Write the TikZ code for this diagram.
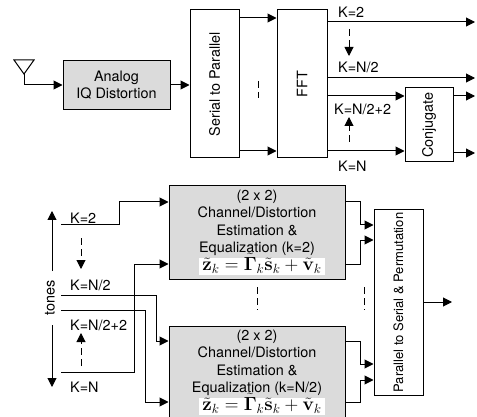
\documentclass[tikz,border=0pt]{standalone}
\usepackage{amsmath,amssymb}
\usepackage{fix-cm}
\usepackage[no-math]{fontspec}
\setmainfont{TeX Gyre Heros}
\usetikzlibrary{arrows.meta, calc}
\tikzset{
  box/.style={draw=black, line width=1pt, inner sep=0pt, align=center},
  graybox/.style={box, fill=black!14},
  link/.style={line width=1pt, -{Triangle[length=9pt,width=9pt]}},
  dashlink/.style={line width=1pt, dash pattern=on 7pt off 4pt, -{Triangle[length=9pt,width=9pt]}},
  dots/.style={line width=1pt, dash pattern=on 7pt off 4pt},
  lbl/.style={inner sep=0pt, anchor=west},
}
\newcommand{\mainsize}{\fontsize{14.4}{17.5}\selectfont}
\newcommand{\eqn}{{\setlength{\fboxsep}{0pt}\hspace*{10pt}\colorbox{white}{\fontsize{19}{19}\selectfont\hspace{3pt}\raisebox{0pt}[12.5pt][4.5pt]{$\tilde{\mathbf z}_k=\tilde{\mathbf\Gamma}_k\tilde{\mathbf s}_k+\tilde{\mathbf v}_k$}\hspace{3pt}}}}

\begin{document}
\begin{tikzpicture}[x=1pt, y=-1pt, font=\mainsize]
  \useasboundingbox (0,0) rectangle (477,417);
  \clip (0,0) rectangle (477,417);
  % top chain
  \node[graybox, minimum width=107, minimum height=49] (analog) at (116.5,85) {Analog\\IQ Distortion};
  \node[box, minimum width=49, minimum height=148] (s2p) at (214.5,84) {\rotatebox{90}{Serial to Parallel}};
  \node[box, minimum width=50, minimum height=148] (fft) at (302,84) {\rotatebox{90}{FFT}};
  \node[box, minimum width=48, minimum height=74] (conj) at (429,125) {\rotatebox{90}{Conjugate}};
  \coordinate (antbase) at (24,74);
  \coordinate (outA) at (475,22);
  \coordinate (outB) at (475,78);
  \coordinate (outC) at (475,96);
  \coordinate (outD) at (475,153);
  \draw[line width=1pt, line join=miter] (14,60) -- (34,60) -- (antbase) -- cycle;
  \draw[link] (antbase) |- (analog.west);
  \draw[link] (analog.east) -- (analog.east -| s2p.west);
  \draw[link] ([yshift=66pt]s2p.east) -- ([yshift=66pt]fft.west);
  \draw[link] ([yshift=-67pt]s2p.east) -- ([yshift=-67pt]fft.west);
  \draw[dots] (258,81) -- (258,98);
  \draw[link] (fft.east |- outA) -- (outA);
  \draw[link] (fft.east |- outB) -- (outB);
  \draw[link] (fft.east |- outC) -- (conj.west |- outC);
  \draw[link] ([yshift=-67pt]fft.east) -- (conj.west |- 0,151);
  \draw[link] (conj.east |- outC) -- (outC);
  \draw[link] (conj.east |- outD) -- (outD);
  \draw[dashlink] (349,29) -- (349,56);
  \draw[dashlink] (349,142) -- (349,117);
  \node[lbl] (topA) at (338,12) {K=2};
  \node[lbl] (topB) at (338,67) {K=N/2};
  \node[lbl] (topC) at (334,109) {K=N/2+2};
  \node[lbl] (topD) at (338,166) {K=N};
  % equalizer blocks
  \node[graybox, minimum width=176, minimum height=93] (eqA) at (257,232.5) {(2 x 2)\\Channel/Distortion\\Estimation \&\\Equalization (k=2)\\\eqn};
  \node[graybox, minimum width=176, minimum height=93] (eqB) at (257,372.5) {(2 x 2)\\Channel/Distortion\\Estimation \&\\Equalization (k=N/2)\\\eqn};
  \node[box, minimum width=49, minimum height=185] (p2s) at (398.5,302.5) {\rotatebox{90}{\fontsize{13}{15}\selectfont Parallel to Serial \& Permutation}};
  \coordinate (outE) at (452,302);
  \draw[link] (p2s.east |- outE) -- (outE);
  \draw[dots] (257,287) -- (257,310);
  \draw[dots] (364,287) -- (364,310);
  % tone lines
  \coordinate (toneA) at (61,225);
  \coordinate (toneB) at (61,295);
  \coordinate (toneC) at (61,310);
  \coordinate (toneD) at (61,372);
  \draw[link] (toneA) -- (119,225) |- (eqA.west |- 0,202);
  \draw[link] (toneB) -- (156,295) |- (eqB.west |- 0,341);
  \draw[link] (toneC) -- (145,310) |- (eqB.west |- 0,402);
  \draw[link] (toneD) -- (134,372) |- (eqA.west |- 0,264);
  \node[lbl] (botA) at (70,218) {K=2};
  \node[lbl] (botB) at (70,285) {K=N/2};
  \node[lbl] (botC) at (70,325) {K=N/2+2};
  \node[lbl] (botD) at (70,387) {K=N};
  \draw[dashlink] (81,238) -- (81,269);
  \draw[dashlink] (81,366) -- (81,333);
  \node[rotate=90, inner sep=0pt] (tones) at (50,298) {tones};
  \draw[link] (52,271) -- (52,211);
  \draw[link] (52,325) -- (52,387);
  % into the last block
  \draw[link] (eqA.east |- 0,202) -- (360,202) |- (p2s.west |- 0,225);
  \draw[link] (eqA.east |- 0,264) -- (360,264) |- (p2s.west |- 0,240);
  \draw[link] (eqB.east |- 0,341) -- (360,341) |- (p2s.west |- 0,364);
  \draw[link] (eqB.east |- 0,402) -- (360,402) |- (p2s.west |- 0,380);
\end{tikzpicture}
\end{document}
